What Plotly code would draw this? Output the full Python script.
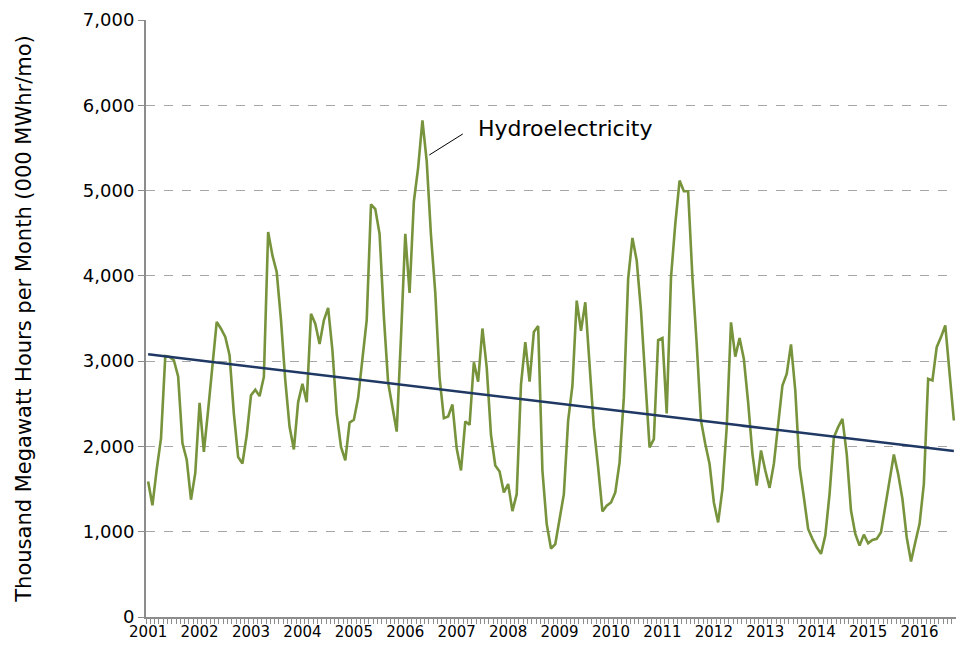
import numpy as np
import plotly.graph_objects as go

# Monthly hydroelectricity generation, Jan 2001 - Sep 2016 (thousand MWh / month)
hydro = [
    1590, 1310, 1730, 2095, 3060, 3050, 3010, 2820, 2040, 1845, 1375, 1690,   # 2001
    2510, 1935, 2425, 2950, 3460, 3380, 3285, 3070, 2385, 1875, 1800, 2130,   # 2002
    2600, 2665, 2590, 2815, 4515, 4240, 4045, 3480, 2775, 2230, 1965, 2520,   # 2003
    2735, 2520, 3555, 3440, 3200, 3480, 3625, 3125, 2385, 1995, 1837, 2280,   # 2004
    2312, 2570, 3066, 3482, 4838, 4783, 4493, 3522, 2749, 2471, 2174, 3284,   # 2005
    4493, 3800, 4870, 5270, 5822, 5346, 4473, 3800, 2808, 2332, 2352, 2491,   # 2006
    1975, 1718, 2293, 2253, 2987, 2760, 3383, 2927, 2134, 1777, 1706, 1460,   # 2007
    1559, 1242, 1440, 2729, 3224, 2760, 3343, 3411, 1715, 1090, 803, 855,     # 2008
    1128, 1441, 2302, 2712, 3710, 3357, 3690, 2966, 2223, 1754, 1238, 1304,   # 2009
    1343, 1461, 1813, 2575, 3964, 4445, 4179, 3592, 2732, 1989, 2086, 3248,   # 2010
    3271, 2388, 3983, 4609, 5117, 4992, 4992, 3983, 3201, 2302, 2028, 1793,   # 2011
    1343, 1109, 1500, 2223, 3455, 3052, 3271, 3025, 2517, 1913, 1541, 1952,   # 2012
    1717, 1514, 1795, 2226, 2715, 2851, 3196, 2656, 1756, 1404, 1033, 916,    # 2013
    818, 740, 955, 1443, 2108, 2226, 2323, 1913, 1248, 974, 837, 966,         # 2014
    864, 904, 916, 994, 1287, 1600, 1905, 1678, 1385, 935, 650, 876,          # 2015
    1092, 1561, 2793, 2773, 3164, 3282, 3418, 2860, 2304,                     # 2016
]
years = [str(y) for y in range(2001, 2017)]
series_name = "Hydroelectricity"
y_title = "Thousand Megawatt Hours per Month (000 MWhr/mo)"

months = np.arange(len(hydro))
slope, intercept = np.polyfit(months, hydro, 1)
trend = slope * months + intercept

FONT = "DejaVu Sans"
GREEN = "#77933C"
NAVY = "#1F3864"
GRID = "#A6A6A6"
AXIS = "#8C8C8C"

fig = go.Figure()
fig.add_trace(go.Scatter(x=months, y=hydro, mode="lines", name=series_name,
                         line=dict(color=GREEN, width=2.6), hoverinfo="skip"))
fig.add_trace(go.Scatter(x=months, y=trend, mode="lines", name="Trend",
                         line=dict(color=NAVY, width=2.6), hoverinfo="skip"))

peak_i = int(np.argmax(hydro))
fig.add_annotation(x=peak_i + 1.6, y=hydro[peak_i] - 405, ax=35, ay=-22,
                   text="", showarrow=True, arrowhead=0, arrowwidth=1,
                   arrowcolor="#000000")
fig.add_annotation(x=peak_i + 1.6, y=hydro[peak_i] - 405, xshift=47, yshift=27,
                   text=series_name, showarrow=False, xanchor="left", yanchor="middle",
                   font=dict(family=FONT, size=22, color="#000000"))

# the page body has an 8px margin, so the figure is sized to fit inside it
fig.update_layout(
    width=948, height=633,
    margin=dict(l=138, r=0, t=12, b=24, autoexpand=False),
    paper_bgcolor="white", plot_bgcolor="white",
    showlegend=False,
    font=dict(family=FONT, color="#000000"),
)
fig.update_xaxes(
    range=[-0.5, len(hydro) - 0.5], automargin=False,
    tickmode="array", tickvals=[12 * i for i in range(len(years))], ticktext=years,
    ticks="", showgrid=False, zeroline=False,
    showline=True, linecolor=AXIS, linewidth=2,
    tickfont=dict(family=FONT, size=15, color="#000000"),
    minor=dict(tickmode="linear", tick0=-0.5, dtick=1, ticks="outside",
               ticklen=5, tickcolor=AXIS, tickwidth=1, showgrid=False),
)
fig.update_yaxes(
    range=[0, 7000], tickmode="linear", tick0=0, dtick=1000, automargin=False,
    tickformat=",d", ticks="outside", ticklen=6, tickcolor=AXIS,
    showgrid=True, gridcolor=GRID, griddash="dash", gridwidth=1,
    zeroline=False, showline=True, linecolor=AXIS, linewidth=2,
    tickfont=dict(family=FONT, size=18, color="#000000"),
    title=dict(text=y_title, font=dict(family=FONT, size=21, color="#000000"), standoff=46),
)

fig.write_html("out.html")
